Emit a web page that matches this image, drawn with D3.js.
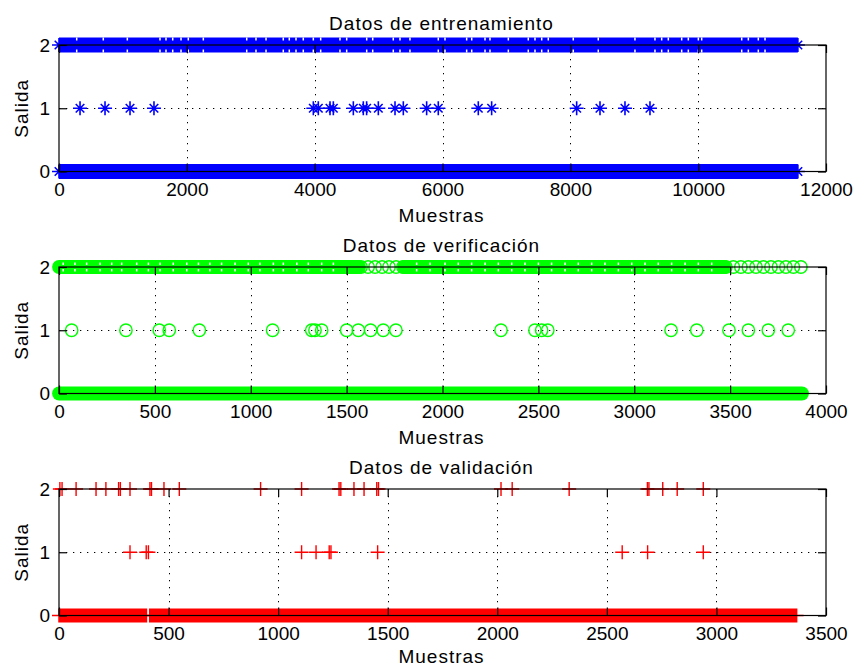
<!DOCTYPE html>
<html>
<head>
<meta charset="utf-8">
<script src="https://cdn.jsdelivr.net/npm/d3@7"></script>
<style>
    body { margin: 0; background: #fff; }
    text { font-family: "Liberation Sans", Arial, sans-serif; }
</style>
</head>
<body>
<script>
// ---------------- data ----------------

// training set, marker '*'
const trainTitle = 'Datos de entrenamiento';
const trainXMax = 12000;
const trainXTicks = [0, 2000, 4000, 6000, 8000, 10000, 12000];
const trainRuns0 = [[0, 11560]];   // dense runs of samples with output 0
const trainRuns2 = [[0, 11560]];   // dense runs of samples with output 2
const trainGaps2 = [277, 693, 1069, 1580, 1674, 1779, 1909, 2023, 2258, 2937, 3082, 3239, 3509, 3603,
    3708, 3822, 3979, 4094, 4396, 4501, 4814, 4908, 5230, 5335, 5491, 5934, 6039, 6378, 6457, 6665,
    6743, 7030, 7342, 7447, 7552, 7655, 8046, 8437, 9011, 9324, 9429, 9533, 9742, 9846, 10003, 10055,
    10681, 10785, 10941, 11046];
const trainPoints1 = [329, 720, 1111, 1486, 3979, 4057, 4240, 4292, 4605, 4761, 4813, 4996, 5257, 5387,
    5752, 5934, 6560, 6769, 8099, 8464, 8855, 9246];
const trainPoints2 = [];

// verification set, marker 'o'
const verifTitle = 'Datos de verificación';
const verifXMax = 4000;
const verifXTicks = [0, 500, 1000, 1500, 2000, 2500, 3000, 3500, 4000];
const verifRuns0 = [[0, 3875]];
const verifRuns2 = [[0, 1565], [1800, 3470]];
const verifGaps2 = [22, 83, 144, 214, 275, 327, 405, 466, 527, 596, 666, 727, 787, 848, 918, 987, 1048,
    1118, 1170, 1240, 1300, 1370, 1431, 1865, 1935, 2013, 2082, 2152, 2222, 2291, 2361, 2430, 2500, 2569,
    2639, 2708, 2778, 2847, 2917, 2987, 3056, 3125, 3195, 3265, 3334, 3404];
const verifPoints1 = [66, 349, 523, 575, 732, 1114, 1318, 1335, 1370, 1500, 1561, 1625, 1691, 1757, 2305,
    2482, 2517, 2549, 3192, 3326, 3494, 3595, 3699, 3803];
const verifPoints2 = [1575, 1612, 1648, 1685, 1721, 1758, 1794, 3478, 3517, 3556, 3595, 3635, 3674, 3713,
    3752, 3791, 3830, 3869];

// validation set, marker '+'
const validTitle = 'Datos de validación';
const validXMax = 3500;
const validXTicks = [0, 500, 1000, 1500, 2000, 2500, 3000, 3500];
const validRuns0 = [[0, 399], [414, 3366]];
const validRuns2 = [];
const validGaps2 = [];
const validPoints1 = [324, 398, 408, 1107, 1173, 1233, 1241, 1454, 2570, 2686, 2940];
const validPoints2 = [4, 14, 78, 169, 214, 272, 280, 324, 415, 422, 479, 549, 920, 1107, 1278, 1286, 1346,
    1392, 1450, 1458, 2017, 2068, 2328, 2685, 2692, 2755, 2821, 2940];

const yTicks = [0, 1, 2];
const xLabel = 'Muestras';
const yLabel = 'Salida';

// ---------------- layout ----------------
const svgWidth = 855;
const svgHeight = 667;
const plotLeft = 59;
const plotRight = 826;
const panelTops = [45, 267, 489];
const panelHeight = 126.5;
const tickLen = 8;
const fontFamily = '"Liberation Sans", Arial, sans-serif';

const panels = [
    { title: trainTitle, xMax: trainXMax, xTicks: trainXTicks, marker: 'star', color: '#0000ff',
      runs0: trainRuns0, runs2: trainRuns2, gaps2: trainGaps2, points1: trainPoints1, points2: trainPoints2 },
    { title: verifTitle, xMax: verifXMax, xTicks: verifXTicks, marker: 'circle', color: '#00ff00',
      runs0: verifRuns0, runs2: verifRuns2, gaps2: verifGaps2, points1: verifPoints1, points2: verifPoints2 },
    { title: validTitle, xMax: validXMax, xTicks: validXTicks, marker: 'plus', color: '#ff0000',
      runs0: validRuns0, runs2: validRuns2, gaps2: validGaps2, points1: validPoints1, points2: validPoints2 }
];

const svg = d3.select('body')
    .append('svg')
    .attr('width', svgWidth)
    .attr('height', svgHeight);

panels.forEach((p, i) => drawPanel(p, panelTops[i]));

/*
 * Marker glyph paths, centred on 0,0.
 */
function markerPath(type)
{
    const r = 7;
    const d = 4.3;
    if (type === 'star')
    {
        return `M${-r},0H${r}M0,${-r}V${r}M${-d},${-d}L${d},${d}M${-d},${d}L${d},${-d}`;
    }
    if (type === 'plus')
    {
        return `M${-r},0H${r}M0,${-r}V${r}`;
    }
    return d3.symbol(d3.symbolCircle, Math.PI * 6.2 * 6.2)();
}

/*
 * Draws one subplot: grid, data bands and markers, box with axes, texts.
 */
function drawPanel(p, top)
{
    const bottom = top + panelHeight;
    const x = d3.scaleLinear().domain([0, p.xMax]).range([plotLeft, plotRight]);
    const y = d3.scaleLinear().domain([0, 2]).range([bottom, top]);
    const g = svg.append('g');
    const snap = v => Math.round(v) + 0.5;

    // dotted grid
    g.selectAll('.vgrid')
        .data(p.xTicks.slice(1, -1))
        .enter()
        .append('line')
        .attr('x1', d => snap(x(d))).attr('x2', d => snap(x(d)))
        .attr('y1', top).attr('y2', bottom)
        .attr('stroke', '#000')
        .attr('stroke-dasharray', '1.3,5.7');

    g.selectAll('.hgrid')
        .data(yTicks.slice(1, -1))
        .enter()
        .append('line')
        .attr('x1', plotLeft).attr('x2', plotRight)
        .attr('y1', d => snap(y(d))).attr('y2', d => snap(y(d)))
        .attr('stroke', '#000')
        .attr('stroke-dasharray', '1.3,5.7');

    // dense runs: markers overlap into a solid band
    const runs = p.runs0.map(r => ({ a: r[0], b: r[1], v: 0 }))
        .concat(p.runs2.map(r => ({ a: r[0], b: r[1], v: 2 })));

    runs.forEach(r =>
    {
        const cy = y(r.v);
        if (p.marker === 'circle')
        {
            g.append('rect')
                .attr('x', x(r.a) - 6.9).attr('width', x(r.b) - x(r.a) + 13.8)
                .attr('y', cy - 6.9).attr('height', 13.8)
                .attr('rx', 6.9)
                .attr('fill', p.color);
        }
        else if (p.marker === 'plus')
        {
            g.append('rect')
                .attr('x', x(r.a) - 0.75).attr('width', x(r.b) - x(r.a) + 1.5)
                .attr('y', cy - 7).attr('height', 14)
                .attr('fill', p.color);
            g.append('line')
                .attr('x1', x(r.a) - 7).attr('x2', x(r.b) + 7)
                .attr('y1', cy).attr('y2', cy)
                .attr('stroke', p.color).attr('stroke-width', 1.5);
        }
        else
        {
            g.append('rect')
                .attr('x', x(r.a)).attr('width', x(r.b) - x(r.a))
                .attr('y', cy - 7.5).attr('height', 15)
                .attr('fill', p.color);
            g.selectAll(null)
                .data([r.a, r.b])
                .enter()
                .append('path')
                .attr('d', markerPath('star'))
                .attr('transform', d => `translate(${x(d)},${cy})`)
                .attr('fill', 'none')
                .attr('stroke', p.color)
                .attr('stroke-width', 1.6);
        }
    });

    // small holes left in the output-2 band
    const y2 = y(2);
    p.gaps2.forEach(gx =>
    {
        const offsets = p.marker === 'circle' ? [[-4.5, 2.5], [2, 2.5]] : [[-7.5, 3], [4.5, 3]];
        offsets.forEach(o =>
        {
            g.append('rect')
                .attr('x', x(gx) - 0.75).attr('width', 1.5)
                .attr('y', y2 + o[0]).attr('height', o[1])
                .attr('fill', '#fff');
        });
    });

    // single markers
    const points = p.points1.map(d => ({ x: d, v: 1 }))
        .concat(p.points2.map(d => ({ x: d, v: 2 })));

    g.selectAll('.pt')
        .data(points)
        .enter()
        .append('path')
        .attr('d', markerPath(p.marker))
        .attr('transform', d => `translate(${x(d.x)},${y(d.v)})`)
        .attr('fill', 'none')
        .attr('stroke', p.color)
        .attr('stroke-width', p.marker === 'star' ? 1.6 : 1.4);

    // axes (ticks point inward, MATLAB style)
    const xAxis = d3.axisBottom(x)
        .tickValues(p.xTicks)
        .tickFormat(d3.format('d'))
        .tickSizeInner(-tickLen)
        .tickSizeOuter(0)
        .tickPadding(11);

    const yAxis = d3.axisLeft(y)
        .tickValues(yTicks)
        .tickFormat(d3.format('d'))
        .tickSizeInner(-tickLen)
        .tickSizeOuter(0)
        .tickPadding(9);

    g.append('g').attr('transform', `translate(0,${bottom})`).call(xAxis).call(styleAxis);
    g.append('g').attr('transform', `translate(0,${top})`)
        .call(d3.axisTop(x).tickValues(p.xTicks).tickFormat('').tickSizeInner(-tickLen).tickSizeOuter(0))
        .call(styleAxis);
    g.append('g').attr('transform', `translate(${plotLeft},0)`).call(yAxis).call(styleAxis);
    g.append('g').attr('transform', `translate(${plotRight},0)`)
        .call(d3.axisRight(y).tickValues(yTicks).tickFormat('').tickSizeInner(-tickLen).tickSizeOuter(0))
        .call(styleAxis);

    g.append('rect')
        .attr('x', plotLeft).attr('y', top)
        .attr('width', plotRight - plotLeft).attr('height', bottom - top)
        .attr('fill', 'none')
        .attr('stroke', '#000')
        .attr('stroke-width', 1.2);

    // texts
    const cx = (plotLeft + plotRight) / 2 - 1;
    addLabel(g, p.title, cx, top - 15);
    addLabel(g, xLabel, cx, Math.min(bottom + 50, svgHeight - 4));
    addLabel(g, yLabel, 0, 0)
        .attr('transform', `translate(28,${(top + bottom) / 2}) rotate(-90)`);
}

function styleAxis(sel)
{
    sel.select('.domain').remove();
    sel.selectAll('line').attr('stroke', '#000').attr('stroke-width', 1.2);
    sel.selectAll('text')
        .attr('fill', '#000')
        .attr('font-size', 19)
        .attr('font-family', fontFamily);
}

function addLabel(g, text, x, y)
{
    return g.append('text')
        .attr('x', x).attr('y', y)
        .attr('text-anchor', 'middle')
        .attr('font-size', 19)
        .attr('letter-spacing', 1)
        .attr('fill', '#000')
        .text(text);
}
</script>
</body>
</html>
